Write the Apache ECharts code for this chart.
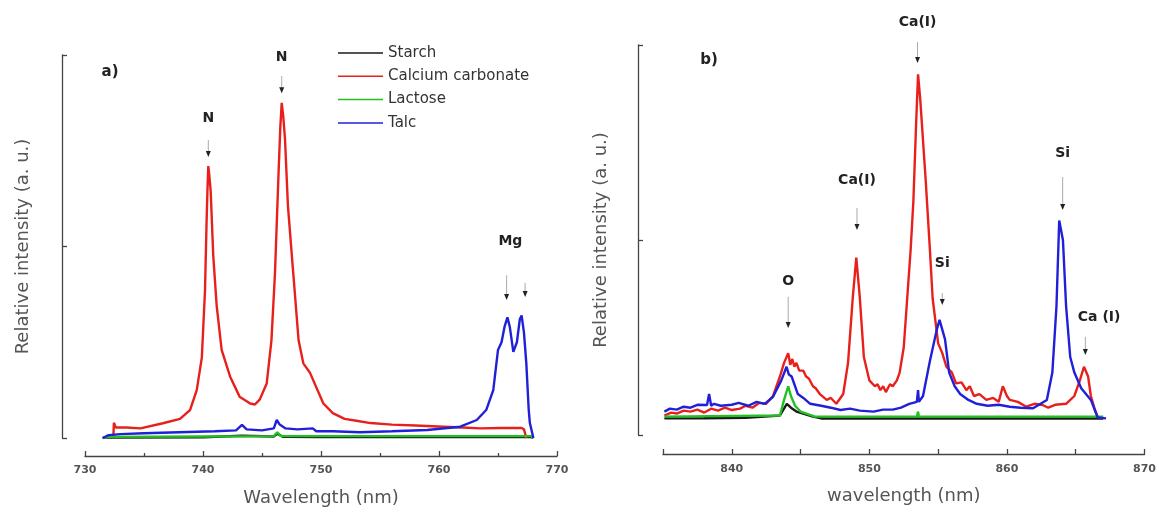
<!DOCTYPE html>
<html>
<head>
<meta charset="utf-8">
<script src="https://cdn.jsdelivr.net/npm/echarts@6/dist/echarts.min.js"></script>
<style>
html,body{margin:0;padding:0;background:#fff;}
#main{width:1159px;height:512px;}
</style>
</head>
<body>
<div id="main"></div>
<script>
// ---------------- DATA ----------------
const seriesNames = ['Starch', 'Calcium carbonate', 'Lactose', 'Talc'];
const xTicksA = [730, 740, 750, 760, 770];
const xTicksB = [840, 850, 860, 870];

// Panel a) — wavelength (nm) / relative intensity
const aStarchWl = [731.5, 732, 740, 743.3, 746.0, 746.3, 746.8, 750, 760, 767.8, 768];
const aStarch   = [0, 0.003, 0.004, 0.012, 0.008, 0.022, 0.006, 0.005, 0.005, 0.005, 0];

const aCalciumWl = [732.4, 732.45, 732.6, 733.5, 734.7, 736.6, 738.05, 738.9, 739.47, 739.9, 740.17, 740.3, 740.38, 740.45, 740.52, 740.65, 740.87, 741.16, 741.58, 742.3, 743.1, 744.0, 744.4, 744.8, 745.4, 745.8, 746.1, 746.4, 746.55, 746.67, 746.8, 746.95, 747.2, 747.65, 748.1, 748.5, 749.07, 750.2, 751, 752, 753, 754.2, 756, 758, 760.4, 762, 763.5, 765.2, 767.0, 767.2, 767.4];
const aCalcium   = [0, 0.08, 0.055, 0.055, 0.05, 0.077, 0.10, 0.146, 0.25, 0.42, 0.77, 1.12, 1.3, 1.42, 1.38, 1.29, 0.95, 0.69, 0.46, 0.32, 0.216, 0.18, 0.175, 0.2, 0.285, 0.51, 0.86, 1.38, 1.62, 1.75, 1.68, 1.56, 1.21, 0.86, 0.51, 0.39, 0.34, 0.18, 0.13, 0.1, 0.09, 0.078, 0.07, 0.065, 0.059, 0.055, 0.05, 0.052, 0.052, 0.045, 0];

const aLactoseWl = [731.5, 732, 740, 746.0, 746.3, 746.6, 750, 760, 767.8, 768];
const aLactose   = [0, 0.006, 0.008, 0.01, 0.03, 0.01, 0.01, 0.01, 0.01, 0];

const aTalcWl = [731.5, 732, 733, 735, 738, 741, 742.8, 743.3, 743.7, 745, 746.0, 746.25, 746.5, 747, 748, 749.3, 749.6, 751, 753.3, 756, 759, 761.8, 763.2, 764.0, 764.6, 765.0, 765.3, 765.55, 765.8, 766.0, 766.3, 766.6, 766.85, 767.0, 767.2, 767.4, 767.6, 767.7, 768];
const aTalc   = [0, 0.015, 0.02, 0.025, 0.03, 0.035, 0.04, 0.068, 0.045, 0.04, 0.05, 0.094, 0.07, 0.05, 0.045, 0.05, 0.035, 0.035, 0.03, 0.035, 0.042, 0.059, 0.094, 0.146, 0.25, 0.46, 0.5, 0.58, 0.63, 0.58, 0.45, 0.5, 0.62, 0.64, 0.55, 0.39, 0.15, 0.078, 0];

// Panel b)
const bStarchWl = [835.1, 838, 841, 843.5, 844.0, 844.3, 844.7, 845.9, 846.5, 850, 855, 860, 867];
const bStarch   = [0.085, 0.086, 0.088, 0.1, 0.16, 0.14, 0.12, 0.094, 0.085, 0.085, 0.085, 0.085, 0.085];

const bCalciumWl = [835.1, 835.6, 836, 836.5, 837, 837.5, 838, 838.5, 839, 839.5, 840, 840.6, 841, 841.5, 842, 842.5, 843, 843.5, 843.8, 844.1, 844.25, 844.4, 844.55, 844.7, 844.9, 845.2, 845.4, 845.6, 845.9, 846.1, 846.4, 846.9, 847.2, 847.6, 848.1, 848.45, 848.8, 849.05, 849.3, 849.6, 850.0, 850.4, 850.6, 850.8, 851.0, 851.2, 851.5, 851.7, 852.0, 852.2, 852.5, 852.8, 853.0, 853.2, 853.4, 853.54, 853.7, 853.9, 854.1, 854.4, 854.6, 855.0, 855.3, 855.6, 856.0, 856.3, 856.7, 857.05, 857.3, 857.6, 858.0, 858.5, 859.0, 859.4, 859.7, 860.0, 860.2, 860.8, 861.4, 862.0, 862.6, 863.0, 863.5, 864.3, 864.9, 865.3, 865.6, 865.9, 866.1, 866.4, 866.6];
const bCalcium   = [0.10, 0.115, 0.11, 0.125, 0.12, 0.13, 0.115, 0.135, 0.125, 0.14, 0.128, 0.135, 0.15, 0.14, 0.165, 0.16, 0.2, 0.3, 0.37, 0.42, 0.36, 0.39, 0.35, 0.37, 0.33, 0.33, 0.3, 0.29, 0.25, 0.24, 0.21, 0.18, 0.19, 0.16, 0.21, 0.37, 0.71, 0.91, 0.71, 0.40, 0.28, 0.25, 0.26, 0.23, 0.25, 0.22, 0.26, 0.25, 0.28, 0.32, 0.45, 0.75, 0.95, 1.2, 1.6, 1.85, 1.72, 1.51, 1.3, 0.95, 0.7, 0.47, 0.42, 0.35, 0.32, 0.265, 0.27, 0.23, 0.25, 0.2, 0.21, 0.18, 0.19, 0.17, 0.25, 0.2, 0.18, 0.17, 0.145, 0.16, 0.154, 0.14, 0.155, 0.16, 0.2, 0.28, 0.35, 0.3, 0.2, 0.128, 0.09];

const bLactoseWl = [835.1, 843.5, 843.8, 844.1, 844.3, 844.6, 845.0, 846, 853.45, 853.54, 853.6, 867];
const bLactose   = [0.094, 0.1, 0.18, 0.25, 0.2, 0.15, 0.12, 0.095, 0.094, 0.12, 0.094, 0.094];

const bTalcWl = [835.1, 835.5, 836, 836.5, 837, 837.5, 838.2, 838.35, 838.5, 838.7, 839.2, 840, 840.5, 841.2, 841.8, 842.4, 843.0, 843.6, 843.98, 844.15, 844.35, 844.8, 845.2, 845.7, 846.5, 847.2, 847.9, 848.6, 849.3, 850.3, 851.0, 851.7, 852.3, 852.9, 853.45, 853.54, 853.6, 853.9, 854.4, 854.9, 855.1, 855.5, 855.8, 856.2, 856.6, 857.2, 857.8, 858.6, 859.4, 860.2, 861.0, 861.9, 862.9, 863.3, 863.6, 863.8, 864.07, 864.3, 864.6, 864.9, 865.4, 866.1, 866.6, 867.2];
const bTalc   = [0.12, 0.135, 0.13, 0.145, 0.14, 0.155, 0.154, 0.21, 0.15, 0.16, 0.15, 0.155, 0.165, 0.15, 0.17, 0.16, 0.196, 0.28, 0.35, 0.31, 0.30, 0.21, 0.19, 0.16, 0.15, 0.14, 0.128, 0.135, 0.125, 0.12, 0.13, 0.13, 0.14, 0.16, 0.17, 0.23, 0.17, 0.2, 0.38, 0.54, 0.59, 0.49, 0.32, 0.25, 0.21, 0.18, 0.16, 0.15, 0.155, 0.145, 0.14, 0.137, 0.18, 0.32, 0.66, 1.1, 1.0, 0.66, 0.40, 0.32, 0.24, 0.18, 0.09, 0.085];

// Peak annotations: [label, panel, wavelength, textLevel, arrowFrom, arrowTo]
const annotations = [
  ['N', 0, 740.45, 1.669, 1.556, 1.467],
  ['N', 0, 746.67, 1.99, 1.89, 1.80],
  ['Mg', 0, 766.05, 1.025, null, null],
  ['', 0, 765.73, null, 0.85, 0.72],
  ['', 0, 767.3, null, 0.81, 0.736],
  ['Ca(I)', 1, 853.5, 2.118, 2.015, 1.908],
  ['Ca(I)', 1, 849.1, 1.308, 1.164, 1.051],
  ['Si', 1, 855.3, 0.882, 0.728, 0.667],
  ['O', 1, 844.1, 0.79, 0.709, 0.549],
  ['Si', 1, 864.05, 1.446, 1.323, 1.154],
  ['Ca (I)', 1, 866.7, 0.605, null, null],
  ['', 1, 865.7, null, 0.503, 0.41]
];
const panelLabels = [['a)', 0, 731.4, 1.91], ['b)', 1, 837.7, 1.92]];

// ---------------- CHART ----------------
const colors = ['#1a1a1a', '#e8201c', '#22c022', '#2020d8'];
const zip = (xs, ys) => xs.map((x, i) => [x, ys[i]]);
const FONT = 'DejaVu Sans';

const chart = echarts.init(document.getElementById('main'), null, {renderer: 'canvas'});

function xAxisCfg(idx, min, max, interval, labels, name, offset, margin, minor) {
  return {
    type: 'value', gridIndex: idx, min: min, max: max, interval: interval,
    offset: offset,
    name: name, nameLocation: 'middle', nameGap: 33,
    nameTextStyle: {fontFamily: FONT, fontSize: 18, color: '#555'},
    axisLine: {show: true, onZero: false, lineStyle: {color: '#444', width: 1.3}},
    axisTick: {show: true, inside: true, length: 5, lineStyle: {color: '#444', width: 1.3}},
    minorTick: {show: minor, splitNumber: 2, length: 3, lineStyle: {color: '#444', width: 1.3}},
    axisLabel: {fontFamily: FONT, fontSize: 11, fontWeight: 'bold', color: '#555', margin: margin,
      formatter: v => labels.indexOf(v) >= 0 ? String(v) : ''},
    splitLine: {show: false}
  };
}
function yAxisCfg(idx, offset, gap) {
  return {
    type: 'value', gridIndex: idx, min: 0, max: 2, interval: 1,
    offset: offset,
    name: 'Relative intensity (a. u.)', nameLocation: 'middle', nameGap: gap,
    nameTextStyle: {fontFamily: FONT, fontSize: 18, color: '#555'},
    axisLine: {show: true, lineStyle: {color: '#444', width: 1.3}},
    axisTick: {show: true, inside: true, length: 5, lineStyle: {color: '#444', width: 1.3}},
    axisLabel: {show: false},
    splitLine: {show: false}
  };
}

const aData = [zip(aStarchWl, aStarch), zip(aCalciumWl, aCalcium), zip(aLactoseWl, aLactose), zip(aTalcWl, aTalc)];
const bData = [zip(bStarchWl, bStarch), zip(bCalciumWl, bCalcium), zip(bLactoseWl, bLactose), zip(bTalcWl, bTalc)];

const series = [];
seriesNames.forEach((n, i) => {
  series.push({name: n, type: 'line', xAxisIndex: 0, yAxisIndex: 0, data: aData[i], showSymbol: false, symbol: 'none',
    lineStyle: {color: colors[i], width: 2.4}, itemStyle: {color: colors[i]}, z: 2 + i});
});
seriesNames.forEach((n, i) => {
  series.push({name: n, type: 'line', xAxisIndex: 1, yAxisIndex: 1, data: bData[i], showSymbol: false, symbol: 'none',
    lineStyle: {color: colors[i], width: 2.4}, itemStyle: {color: colors[i]}, z: 2 + i});
});

chart.setOption({
  animation: false,
  backgroundColor: '#fff',
  grid: [
    {left: 85, right: 602, top: 55, bottom: 74},
    {left: 663, right: 14, top: 45, bottom: 77}
  ],
  xAxis: [
    xAxisCfg(0, 730, 770, 10, xTicksA, 'Wavelength (nm)', 18, 9, true),
    xAxisCfg(1, 835, 870, 5, xTicksB, 'wavelength (nm)', 19, 10, false)
  ],
  yAxis: [yAxisCfg(0, 23, 30), yAxisCfg(1, 25, 28)],
  legend: {
    data: seriesNames, orient: 'vertical', left: 333, top: 40,
    icon: 'rect', itemWidth: 45, itemHeight: 1.5, itemGap: 7.3,
    textStyle: {fontFamily: FONT, fontSize: 15, color: '#333', lineHeight: 16}
  },
  series: series
});

// annotations via library coordinate conversion
const graphics = [];
function px(panel, x, y) { return chart.convertToPixel({xAxisIndex: panel, yAxisIndex: panel}, [x, y]); }
annotations.forEach(a => {
  const [label, panel, wl, tv, from, to] = a;
  if (label && tv !== null) {
    const p = px(panel, wl, tv);
    graphics.push({type: 'text', x: p[0], y: p[1], style: {text: label, fontFamily: FONT, fontSize: 14, fontWeight: 'bold', fill: '#222', align: 'center', verticalAlign: 'middle'}});
  }
  if (from !== null) {
    const p1 = px(panel, wl, from), p2 = px(panel, wl, to);
    graphics.push({type: 'line', shape: {x1: p1[0], y1: p1[1], x2: p2[0], y2: p2[1] - 5}, style: {stroke: '#aaa', lineWidth: 1}});
    graphics.push({type: 'polygon', shape: {points: [[p2[0] - 2.5, p2[1] - 6], [p2[0] + 2.5, p2[1] - 6], [p2[0], p2[1]]]}, style: {fill: '#222'}});
  }
});
panelLabels.forEach(l => {
  const p = px(l[1], l[2], l[3]);
  graphics.push({type: 'text', x: p[0], y: p[1], style: {text: l[0], fontFamily: FONT, fontSize: 15, fontWeight: 'bold', fill: '#222', align: 'left', verticalAlign: 'middle'}});
});
chart.setOption({graphic: graphics});
</script>
</body>
</html>
